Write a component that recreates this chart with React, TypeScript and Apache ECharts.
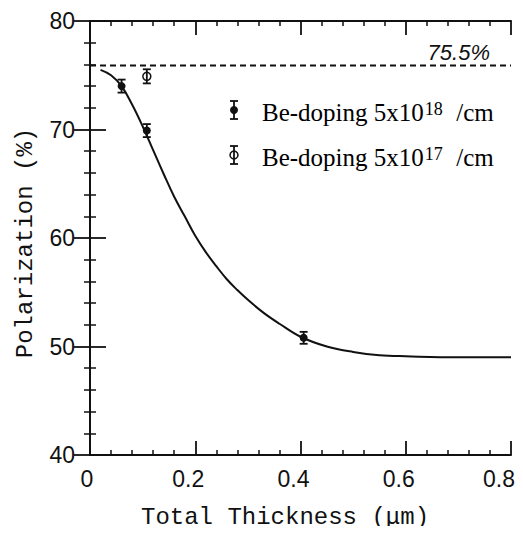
import React, { useEffect, useRef } from "react";
import * as echarts from "echarts";

const dopedHighX = [0.06, 0.108, 0.406];
const dopedHighY = [74.0, 69.9, 50.8];
const dopedHighErr = [0.6, 0.6, 0.55];

const dopedLowX = [0.108];
const dopedLowY = [74.9];
const dopedLowErr = [0.65];

// Fitted curve
const curveX = [0.02, 0.04, 0.06, 0.08, 0.1, 0.12, 0.14, 0.16, 0.18, 0.2, 0.22, 0.24, 0.26, 0.28, 0.3, 0.33, 0.36, 0.4, 0.45, 0.5, 0.55, 0.6, 0.7, 0.8];
const curveY = [75.5, 75.0, 74.0, 72.3, 70.3, 68.1, 65.9, 63.8, 62.0, 60.2, 58.7, 57.4, 56.2, 55.2, 54.3, 53.1, 52.1, 50.9, 50.0, 49.5, 49.2, 49.1, 49.0, 49.0];

const limitValue = 75.9;
const limitLabel = "75.5%";

const xTitle = "Total Thickness (\u03bcm)";
const yTitle = "Polarization (%)";
const legendExps = ["18", "17"];

const FONT_NUM = "Liberation Sans";
const FONT_TITLE = "Liberation Mono";
const FONT_LEG = "Liberation Serif";
const INK = "#111";

function errRender(filled: boolean) {
  return (params: any, api: any) => {
    const x = api.value(0);
    const y = api.value(1);
    const e = api.value(2);
    const c = api.coord([x, y]);
    const t = api.coord([x, y + e]);
    const b = api.coord([x, y - e]);
    const hw = 4;
    const st = { stroke: INK, lineWidth: 1.8 };
    const children: any[] = [
      { type: "line", shape: { x1: c[0], y1: t[1], x2: c[0], y2: b[1] }, style: st },
      { type: "line", shape: { x1: c[0] - hw, y1: t[1], x2: c[0] + hw, y2: t[1] }, style: st },
      { type: "line", shape: { x1: c[0] - hw, y1: b[1], x2: c[0] + hw, y2: b[1] }, style: st },
    ];
    if (filled) {
      children.push({ type: "circle", shape: { cx: c[0], cy: c[1], r: 4 }, style: { fill: INK } });
    } else {
      children.push({ type: "circle", shape: { cx: c[0], cy: c[1], r: 4 }, style: { fill: "#fff", stroke: INK, lineWidth: 1.5 } });
      children.push({ type: "line", shape: { x1: c[0], y1: c[1] - 4, x2: c[0], y2: c[1] + 4 }, style: st });
    }
    return { type: "group", children };
  };
}

function legendSymbol(x: number, y: number, filled: boolean) {
  const st = { stroke: INK, lineWidth: 1.8 };
  const h = 9;
  const hw = 4;
  const ch: any[] = [
    { type: "line", shape: { x1: x, y1: y - h, x2: x, y2: y + h }, style: st },
    { type: "line", shape: { x1: x - hw, y1: y - h, x2: x + hw, y2: y - h }, style: st },
    { type: "line", shape: { x1: x - hw, y1: y + h, x2: x + hw, y2: y + h }, style: st },
  ];
  if (filled) {
    ch.push({ type: "circle", shape: { cx: x, cy: y, r: 4 }, style: { fill: INK } });
  } else {
    ch.push({ type: "circle", shape: { cx: x, cy: y, r: 4 }, style: { fill: "#fff", stroke: INK, lineWidth: 1.5 } });
    ch.push({ type: "line", shape: { x1: x, y1: y - 4, x2: x, y2: y + 4 }, style: st });
  }
  return { type: "group", children: ch };
}

export default function App() {
  const ref = useRef<HTMLDivElement>(null);
  useEffect(() => {
    if (!ref.current) return;
    const chart = echarts.init(ref.current, null, { renderer: "svg" });

    const axisLine = { show: true, lineStyle: { color: INK, width: 2 } };
    const xBase = {
      type: "value" as const,
      min: 0,
      max: 0.8,
      interval: 0.2,
      axisLine,
      axisTick: { show: true, inside: true, length: 14, lineStyle: { color: INK, width: 1.8 } },
      minorTick: { show: true, splitNumber: 5, length: 5, lineStyle: { color: INK, width: 1.5 } },
      splitLine: { show: false },
      minorSplitLine: { show: false },
    };
    const yBase = {
      type: "value" as const,
      min: 40,
      max: 80,
      interval: 10,
      axisLine,
      axisTick: { show: true, inside: true, length: 16, lineStyle: { color: INK, width: 1.8 } },
      minorTick: { show: true, splitNumber: 5, length: 6, lineStyle: { color: INK, width: 1.5 } },
      splitLine: { show: false },
      minorSplitLine: { show: false },
    };

    const richLeg = {
      a: { fontFamily: FONT_LEG, fontSize: 25, color: INK },
      b: { fontFamily: FONT_LEG, fontSize: 18, color: INK, verticalAlign: "top", padding: [0, 1, 5, 1] },
    };

    chart.setOption({
      animation: false,
      backgroundColor: "#fff",
      grid: { left: 90, right: 12, top: 21, bottom: 79, containLabel: false, outerBoundsMode: "none" },
      xAxis: [
        {
          ...xBase,
          position: "bottom",
          axisLabel: {
            show: true,
            color: INK,
            margin: 12,
            formatter: (v: number) => {
              const txt = v === 0 ? "0" : v.toFixed(1);
              const sp = v === 0 ? "s0" : v >= 0.79 ? "s2" : "s1";
              return "{n|" + txt + "}{" + sp + "| }";
            },
            rich: {
              n: { fontFamily: FONT_NUM, fontSize: 23, color: INK },
              s0: { fontFamily: FONT_NUM, fontSize: 23, width: 6 },
              s1: { fontFamily: FONT_NUM, fontSize: 23, width: 14 },
              s2: { fontFamily: FONT_NUM, fontSize: 23, width: 24 },
            },
          },
        },
        { ...xBase, position: "top", axisLabel: { show: false } },
      ],
      yAxis: [
        {
          ...yBase,
          position: "left",
          axisLabel: { show: true, fontFamily: FONT_NUM, fontSize: 23, color: INK, margin: 15 },
        },
        { ...yBase, position: "right", axisLabel: { show: false } },
      ],
      series: [
        {
          type: "line",
          name: "fit",
          data: curveX.map((x, i) => [x, curveY[i]]),
          smooth: 0.4,
          showSymbol: false,
          symbol: "none",
          lineStyle: { color: INK, width: 2 },
          z: 3,
        },
        {
          type: "line",
          name: "limit",
          data: [
            [0, limitValue],
            [0.8, limitValue],
          ],
          showSymbol: false,
          symbol: "none",
          lineStyle: { color: INK, width: 1.8, type: [6, 4] },
          z: 2,
        },
        {
          type: "custom",
          name: "Be-doping 5x10" + legendExps[0] + " /cm",
          data: dopedHighX.map((x, i) => [x, dopedHighY[i], dopedHighErr[i]]),
          renderItem: errRender(true),
          z: 5,
        },
        {
          type: "custom",
          name: "Be-doping 5x10" + legendExps[1] + " /cm",
          data: dopedLowX.map((x, i) => [x, dopedLowY[i], dopedLowErr[i]]),
          renderItem: errRender(false),
          z: 5,
        },
      ],
      graphic: [
        {
          type: "text",
          x: 285,
          y: 505,
          style: { text: xTitle, fontFamily: FONT_TITLE, fontSize: 24, fill: INK, align: "center", verticalAlign: "top" },
        },
        {
          type: "text",
          x: 25,
          y: 243,
          rotation: Math.PI / 2,
          style: { text: yTitle, fontFamily: FONT_TITLE, fontSize: 24, fill: INK, align: "center", verticalAlign: "middle" },
        },
        {
          type: "text",
          x: 490,
          y: 52,
          style: { text: limitLabel, fontFamily: FONT_NUM, fontStyle: "italic", fontSize: 22, fill: INK, align: "right", verticalAlign: "middle" },
        },
        legendSymbol(234, 110, true),
        legendSymbol(234, 155, false),
        {
          type: "text",
          x: 262,
          y: 112,
          style: { text: "{a|Be-doping 5x10}{b|" + legendExps[0] + "}{a|  /cm}", rich: richLeg, verticalAlign: "middle", align: "left" },
        },
        {
          type: "text",
          x: 262,
          y: 157,
          style: { text: "{a|Be-doping 5x10}{b|" + legendExps[1] + "}{a|  /cm}", rich: richLeg, verticalAlign: "middle", align: "left" },
        },
      ],
    });
    return () => chart.dispose();
  }, []);
  return <div ref={ref} style={{ width: 523, height: 534, margin: "-8px" }} />;
}
